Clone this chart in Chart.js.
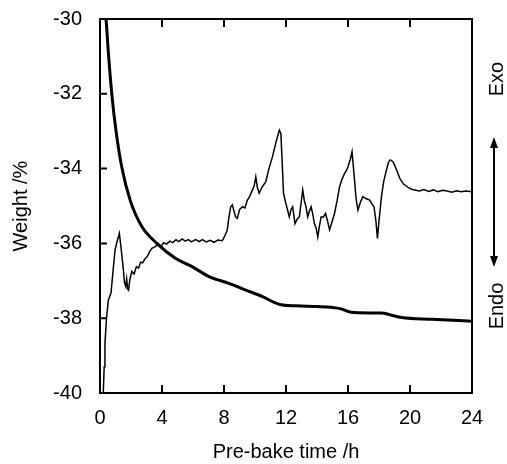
<!DOCTYPE html>
<html>
<head>
<meta charset="utf-8">
<script src="https://cdn.jsdelivr.net/npm/chart.js@4.4.1/dist/chart.umd.min.js"></script>
<style>
  html, body { margin: 0; padding: 0; background: #fff; }
  #wrap { width: 507px; height: 464px; }
</style>
</head>
<body>
<div id="wrap"><canvas id="myChart" width="507" height="464"></canvas></div>
<script>
// pre-bake time (h) and weight (%) - thick curve
var weightTime = [0.2, 0.39, 0.54, 0.76, 1.02, 1.4, 1.95, 2.7, 3.67, 4.86, 5.94, 7.0, 8.32, 9.4, 10.48, 11.2, 11.67, 12.65, 14.0, 14.9, 15.56, 16.0, 16.43, 17.5, 18.16, 18.8, 19.46, 21.4, 24.0];
var weightValues = [-29.3, -30.0, -30.9, -32.0, -32.95, -33.95, -34.85, -35.55, -36.0, -36.4, -36.62, -36.88, -37.07, -37.25, -37.42, -37.57, -37.64, -37.67, -37.69, -37.71, -37.75, -37.82, -37.85, -37.86, -37.86, -37.92, -37.98, -38.03, -38.08];

// DTA signal (arbitrary units, Exo up) - thin curve
var dtaTime = [0.21, 0.27, 0.32, 0.42, 0.54, 0.71, 0.85, 0.97, 1.1, 1.25, 1.38, 1.51, 1.58, 1.66, 1.72, 1.78, 1.84, 1.92, 2.05, 2.2, 2.35, 2.49, 2.62, 2.75, 2.92, 3.05, 3.2, 3.35, 3.5, 3.65, 3.78, 3.95, 4.1, 4.3, 4.5, 4.7, 4.9, 5.08, 5.3, 5.5, 5.7, 5.9, 6.16, 6.4, 6.6, 6.85, 7.1, 7.35, 7.6, 7.89, 8.05, 8.21, 8.32, 8.43, 8.54, 8.65, 8.75, 8.86, 9.0, 9.19, 9.35, 9.51, 9.65, 9.84, 9.95, 10.05, 10.15, 10.27, 10.45, 10.7, 10.9, 11.13, 11.35, 11.57, 11.67, 11.75, 11.84, 11.99, 12.1, 12.21, 12.32, 12.43, 12.58, 12.72, 12.86, 13.08, 13.18, 13.29, 13.4, 13.5, 13.62, 13.72, 13.83, 13.95, 14.05, 14.15, 14.27, 14.4, 14.55, 14.68, 14.81, 14.95, 15.13, 15.3, 15.45, 15.6, 15.78, 15.9, 16.0, 16.15, 16.26, 16.4, 16.52, 16.64, 16.8, 16.96, 17.15, 17.4, 17.55, 17.68, 17.8, 17.9, 18.0, 18.16, 18.3, 18.48, 18.6, 18.7, 18.8, 18.91, 19.1, 19.34, 19.6, 19.88, 20.1, 20.31, 20.6, 20.9, 21.2, 21.5, 21.8, 22.1, 22.4, 22.7, 23.0, 23.3, 23.6, 24.0];
var dtaValues = [-40.0, -39.3, -38.67, -38.0, -37.51, -37.33, -36.7, -36.18, -35.95, -35.73, -36.2, -36.71, -37.05, -37.15, -36.95, -37.22, -37.25, -36.98, -36.75, -36.82, -36.62, -36.66, -36.5, -36.52, -36.4, -36.35, -36.22, -36.13, -36.1, -36.06, -36.02, -36.08, -35.98, -36.02, -35.94, -35.98, -35.9, -35.95, -35.88, -35.94, -35.9, -35.96, -35.9, -35.95, -35.9, -35.96, -35.92, -35.97, -35.91, -35.93, -35.8, -35.64, -35.3, -35.02, -34.97, -35.15, -35.29, -35.33, -35.1, -35.02, -35.05, -34.84, -34.75, -34.57, -34.45, -34.22, -34.5, -34.66, -34.5, -34.35, -34.0, -33.68, -33.3, -32.97, -33.06, -33.8, -34.66, -34.93, -35.1, -35.29, -35.1, -35.02, -35.47, -35.35, -35.29, -34.57, -34.85, -35.02, -35.29, -35.15, -35.02, -35.2, -35.47, -35.6, -35.83, -35.55, -35.29, -35.3, -35.2, -35.4, -35.64, -35.45, -35.2, -34.85, -34.49, -34.3, -34.13, -34.05, -33.95, -33.75, -33.55, -34.2, -34.8, -35.11, -34.9, -34.75, -34.8, -34.84, -34.95, -35.02, -35.4, -35.87, -35.4, -34.75, -34.35, -34.04, -33.85, -33.77, -33.78, -33.82, -34.0, -34.26, -34.42, -34.5, -34.55, -34.57, -34.6, -34.56, -34.61, -34.57, -34.62, -34.58, -34.6, -34.63, -34.59, -34.62, -34.6, -34.62];

var xTicks = [0, 4, 8, 12, 16, 20, 24];
var yTicks = [-40, -38, -36, -34, -32, -30];

function toPoints(xs, ys) {
    var pts = [];
    for (var i = 0; i < xs.length; i++) pts.push({x: xs[i], y: ys[i]});
    return pts;
}

var FONT = "'Liberation Sans', Arial, sans-serif";

// box, inward ticks, Exo/Endo labels
var framePlugin = {
    id: 'frame',
    afterDatasetsDraw: function(chart) {
        var ctx = chart.ctx, a = chart.chartArea;
        var xs = chart.scales.x, ys = chart.scales.y;
        ctx.save();
        ctx.strokeStyle = '#000';
        ctx.lineWidth = 2;
        ctx.strokeRect(a.left, a.top, a.right - a.left, a.bottom - a.top);
        ctx.beginPath();
        xTicks.forEach(function(v) {
            var px = xs.getPixelForValue(v);
            if (v > 0 && v < 24) {
                ctx.moveTo(px, a.bottom); ctx.lineTo(px, a.bottom - 8);
                ctx.moveTo(px, a.top); ctx.lineTo(px, a.top + 8);
            }
        });
        yTicks.forEach(function(v) {
            var py = ys.getPixelForValue(v);
            if (v > -40 && v < -30) {
                ctx.moveTo(a.left, py); ctx.lineTo(a.left + 7, py);
            }
        });
        ctx.stroke();

        // right side labels
        ctx.fillStyle = '#000';
        ctx.font = '20px ' + FONT;
        ctx.textAlign = 'center';
        ctx.textBaseline = 'middle';
        var lx = 497;
        [['Exo', 79], ['Endo', 306]].forEach(function(t) {
            ctx.save();
            ctx.translate(lx, t[1]);
            ctx.rotate(-Math.PI / 2);
            ctx.fillText(t[0], 0, 0);
            ctx.restore();
        });
        // double arrow
        var ax = 494, top = 137, bot = 267;
        ctx.lineWidth = 2;
        ctx.beginPath();
        ctx.moveTo(ax, top + 8); ctx.lineTo(ax, bot - 8);
        ctx.stroke();
        ctx.beginPath();
        ctx.moveTo(ax, top); ctx.lineTo(ax - 4, top + 11); ctx.lineTo(ax + 4, top + 11); ctx.closePath();
        ctx.moveTo(ax, bot); ctx.lineTo(ax - 4, bot - 11); ctx.lineTo(ax + 4, bot - 11); ctx.closePath();
        ctx.fill();
        ctx.restore();
    }
};

function createChart() {
    var ctx = document.getElementById('myChart');
    var myChart = new Chart(ctx, {
        type: 'line',
        data: {
            datasets: [{
                label: 'Weight',
                data: toPoints(weightTime, weightValues),
                borderColor: '#000',
                borderWidth: 3,
                pointRadius: 0,
                cubicInterpolationMode: 'monotone',
                fill: false,
                yAxisID: 'y'
            }, {
                label: 'DTA',
                data: toPoints(dtaTime, dtaValues),
                borderColor: '#000',
                borderWidth: 1.5,
                pointRadius: 0,
                tension: 0,
                fill: false,
                yAxisID: 'y2'
            }]
        },
        options: {
            responsive: false,
            animation: false,
            layout: { padding: { top: 19, right: 35, left: 0, bottom: 0 } },
            plugins: {
                legend: { display: false },
                tooltip: { enabled: false }
            },
            scales: {
                x: {
                    type: 'linear',
                    min: 0, max: 24,
                    afterBuildTicks: function(s) { s.ticks = xTicks.map(function(v) { return {value: v}; }); },
                    afterFit: function(s) { s.height = 71; s.paddingLeft = 0; s.paddingRight = 0; },
                    grid: { display: false, drawTicks: false },
                    border: { display: false },
                    ticks: { color: '#000', font: { family: FONT, size: 20 }, padding: 13, maxRotation: 0 },
                    title: { display: true, text: 'Pre-bake time /h', color: '#000', font: { family: FONT, size: 20 }, padding: { top: 9, bottom: 0 } }
                },
                y: {
                    type: 'linear',
                    min: -40, max: -30,
                    afterBuildTicks: function(s) { s.ticks = yTicks.map(function(v) { return {value: v}; }); },
                    afterFit: function(s) { s.width = 100; s.paddingTop = 0; s.paddingBottom = 0; },
                    grid: { display: false, drawTicks: false },
                    border: { display: false },
                    ticks: { color: '#000', font: { family: FONT, size: 20 }, padding: 18 },
                    title: { display: true, text: 'Weight /%', color: '#000', font: { family: FONT, size: 20 }, padding: { top: 9, bottom: 0 } }
                },
                y2: {
                    type: 'linear',
                    position: 'right',
                    min: -40, max: -30,
                    display: false
                }
            }
        },
        plugins: [framePlugin]
    });
}

createChart();
</script>
</body>
</html>
